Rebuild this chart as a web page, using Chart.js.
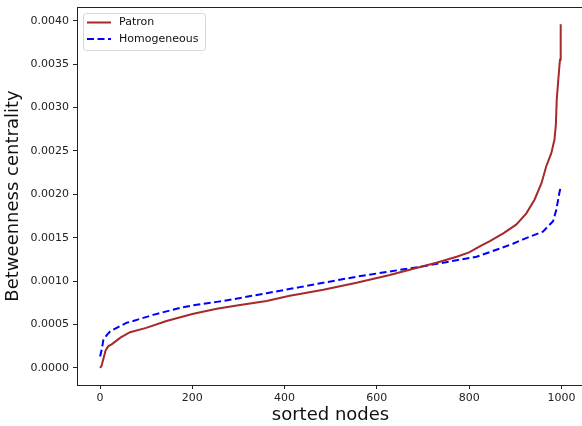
<!DOCTYPE html>
<html>
<head>
<meta charset="utf-8">
<script src="https://cdn.jsdelivr.net/npm/chart.js@4/dist/chart.umd.min.js"></script>
<style>
  html, body { margin: 0; padding: 0; background: #fff; overflow: hidden; width: 582px; height: 426px; }
  canvas { display: block; }
</style>
</head>
<body>
<canvas id="c" width="590" height="426"></canvas>
<script>
// ---- Data ----
const seriesNames = ["Patron", "Homogeneous"];

const patronX = [0, 3, 7, 12, 18, 25, 35, 45, 65, 100, 144, 200, 253, 300, 361, 411, 433, 484, 556, 628, 700, 729, 773, 800, 823, 845, 874, 902, 924, 942, 957, 967, 978, 985, 988, 990, 993, 996, 997, 998, 999];
const patronY = [0.0, 0.00002, 0.0001, 0.0002, 0.00025, 0.00027, 0.00031, 0.00035, 0.00041, 0.00046, 0.00054, 0.00062, 0.00068, 0.00072, 0.00077, 0.00083, 0.00085, 0.0009, 0.00098, 0.00107, 0.00117, 0.00121, 0.00128, 0.00133, 0.0014, 0.00146, 0.00155, 0.00165, 0.00178, 0.00194, 0.00213, 0.00232, 0.00247, 0.00263, 0.0028, 0.0031, 0.0033, 0.0035, 0.00355, 0.0038, 0.00396];

const homogX = [0, 4, 7, 15, 22, 43, 58, 72, 115, 173, 202, 253, 289, 361, 433, 484, 556, 628, 700, 773, 816, 859, 895, 917, 931, 960, 982, 989, 995, 999];
const homogY = [0.00013, 0.00022, 0.00032, 0.00038, 0.00042, 0.00048, 0.00052, 0.00054, 0.00061, 0.00069, 0.00072, 0.00076, 0.00079, 0.00086, 0.00093, 0.00098, 0.00105, 0.00111, 0.00117, 0.00124, 0.00128, 0.00136, 0.00143, 0.00148, 0.00151, 0.00157, 0.00169, 0.00182, 0.002, 0.0021];

const xTickStep = 200;
const yTickStep = 0.0005;
const xLabel = "sorted nodes";
const yLabel = "Betweenness centrality";

// ---- Chart ----
const FONT = "'DejaVu Sans', sans-serif";
const toPts = (xs, ys) => xs.map((x, i) => ({ x: x, y: ys[i] }));

const frame = {
  id: 'frame',
  afterDraw(chart) {
    const { ctx, chartArea: a } = chart;
    ctx.save();
    ctx.strokeStyle = '#222';
    ctx.lineWidth = 1;
    ctx.strokeRect(Math.round(a.left) + 0.5, Math.round(a.top) + 0.5, Math.round(a.right - a.left), Math.round(a.bottom - a.top));
    // legend
    const bx = a.left + 6, by = a.top + 6, bw = 122, bh = 37;
    ctx.beginPath();
    if (ctx.roundRect) ctx.roundRect(bx + 0.5, by + 0.5, bw, bh, 3); else ctx.rect(bx + 0.5, by + 0.5, bw, bh);
    ctx.fillStyle = 'rgba(255,255,255,0.8)';
    ctx.fill();
    ctx.strokeStyle = '#d6d6d6';
    ctx.lineWidth = 1;
    ctx.stroke();
    chart.data.datasets.forEach((ds, i) => {
      const y = by + 9.5 + i * 16.5;
      ctx.beginPath();
      ctx.strokeStyle = ds.borderColor;
      ctx.lineWidth = ds.borderWidth;
      ctx.setLineDash(ds.borderDash || []);
      ctx.moveTo(bx + 4, y);
      ctx.lineTo(bx + 28, y);
      ctx.stroke();
      ctx.setLineDash([]);
      ctx.fillStyle = '#111';
      ctx.font = "11px " + FONT;
      ctx.textBaseline = 'middle';
      ctx.textAlign = 'left';
      ctx.fillText(ds.label, bx + 36, y);
    });
    ctx.restore();
  }
};

new Chart(document.getElementById('c'), {
  type: 'line',
  data: {
    datasets: [
      {
        label: seriesNames[0],
        data: toPts(patronX, patronY),
        borderColor: '#a52a2a',
        borderWidth: 2,
        pointRadius: 0,
        tension: 0,
        fill: false
      },
      {
        label: seriesNames[1],
        data: toPts(homogX, homogY),
        borderColor: '#0000ff',
        borderWidth: 2,
        borderDash: [7, 3.5],
        pointRadius: 0,
        tension: 0,
        fill: false
      }
    ]
  },
  options: {
    responsive: false,
    animation: false,
    devicePixelRatio: 1,
    layout: { padding: { top: 7, right: 6, left: 0, bottom: 0 } },
    plugins: { legend: { display: false }, tooltip: { enabled: false } },
    scales: {
      x: {
        type: 'linear',
        min: -50,
        max: 1049,
        afterFit(s) { s.height = 41; s.paddingLeft = 0; s.paddingRight = 0; },
        border: { display: true, color: '#222', width: 1 },
        grid: { drawOnChartArea: false, drawTicks: true, tickLength: 4, tickColor: '#222' },
        ticks: {
          stepSize: xTickStep,
          includeBounds: false,
          autoSkip: false,
          maxRotation: 0,
          padding: 3,
          color: '#222',
          font: { family: FONT, size: 11 },
          callback: v => String(v)
        },
        title: { display: true, text: xLabel, color: '#111', font: { family: FONT, size: 18 }, padding: { top: 0, bottom: 0 } }
      },
      y: {
        type: 'linear',
        min: -0.000198,
        max: 0.004158,
        afterFit(s) { s.width = 77; s.paddingTop = 0; s.paddingBottom = 0; },
        border: { display: true, color: '#222', width: 1 },
        grid: { drawOnChartArea: false, drawTicks: true, tickLength: 4, tickColor: '#222' },
        ticks: {
          stepSize: yTickStep,
          includeBounds: false,
          autoSkip: false,
          padding: 4,
          color: '#222',
          font: { family: FONT, size: 11 },
          callback: v => (Math.abs(v) < 1e-12 ? 0 : v).toFixed(4)
        },
        title: { display: true, text: yLabel, color: '#111', font: { family: FONT, size: 18 }, padding: { top: 3, bottom: 0 } }
      }
    }
  },
  plugins: [frame]
});
</script>
</body>
</html>
